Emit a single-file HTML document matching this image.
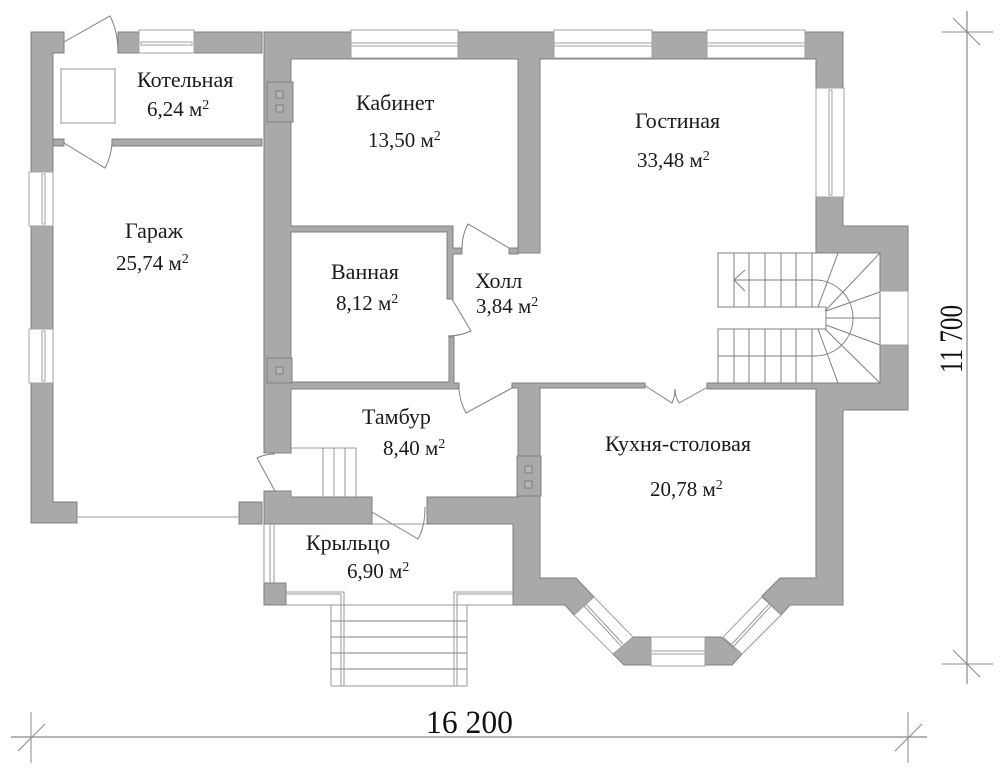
<!DOCTYPE html>
<html><head><meta charset="utf-8"><style>
html,body{margin:0;padding:0;background:#fff}
svg{display:block}
.w{fill:#a9a9a9;stroke:#808080;stroke-width:1}
.l{fill:none;stroke:#999;stroke-width:1}
.d{fill:none;stroke:#808080;stroke-width:1}
.win{fill:#fff;stroke:#a0a0a0;stroke-width:1}
.t{font-family:"Liberation Serif","Noto Serif CJK SC",serif;font-size:22px;fill:#1a1a1a}
.a{font-size:21px}
.s{font-size:14px}
.dim{font-family:"Liberation Serif",serif;font-size:33px;fill:#111}
</style></head><body>
<svg width="1000" height="773" viewBox="0 0 1000 773" xmlns="http://www.w3.org/2000/svg">
<rect width="1000" height="773" fill="#fff"/>

<!-- walls -->
<path class="w" d="M31 32H64V53H53V172H31Z"/>
<path class="w" d="M31 226H53V329H31Z"/>
<path class="w" d="M31 383H53V502H77V523H31Z"/>
<path class="w" d="M118 32H262V53H118Z"/>
<rect class="w" x="53" y="139" width="11" height="7"/>
<rect class="w" x="112" y="139" width="150" height="7"/>
<path class="w" d="M264 32H843V88H816V59H540V253H518V59H291V226H453V248H462V254H453V299H447V232H291V382H449V337H454V383H459V389H291V453H264Z"/>
<path class="w" d="M509 248H518V254H509Z"/>
<path class="w" d="M816 197H843V226H908V291H880V253H816Z"/>
<path class="w" d="M880 345H908V410H843V605H790L781 615L762 596L780 578H816V389H707V383H880Z"/>
<path class="w" d="M512 383H645V388H540V578H576L594 597L574 615L565 605H513V524H427V497H518V388H512Z"/>
<path class="w" d="M264 491H291V497H372V524H264Z"/>
<rect class="w" x="239" y="502" width="23" height="22"/>
<rect class="w" x="264" y="583" width="22" height="22"/>
<path class="w" d="M633 637H651V665H624L613 654Z"/>
<path class="w" d="M705 637H721L742 654L732 665H705Z"/>

<!-- chimneys -->
<g fill="#a9a9a9" stroke="#808080">
<rect x="267" y="82" width="26" height="40"/>
<rect x="276" y="91" width="7" height="7" fill="#b5b5b5"/>
<rect x="276" y="105" width="7" height="7" fill="#b5b5b5"/>
<rect x="267" y="358" width="25" height="25"/>
<rect x="276" y="367" width="7" height="7" fill="#b5b5b5"/>
<rect x="517" y="456" width="24" height="40"/>
<rect x="525" y="466" width="7" height="7" fill="#b5b5b5"/>
<rect x="525" y="481" width="7" height="7" fill="#b5b5b5"/>
</g>

<!-- windows -->
<g>
<rect class="win" x="139" y="30" width="55" height="23"/>
<rect class="win" x="141" y="42" width="51" height="3"/>
<rect class="win" x="351" y="30" width="107" height="28"/>
<rect class="win" x="351" y="43" width="107" height="3"/>
<rect class="win" x="554" y="30" width="98" height="28"/>
<rect class="win" x="554" y="43" width="98" height="3"/>
<rect class="win" x="707" y="30" width="98" height="28"/>
<rect class="win" x="707" y="43" width="98" height="3"/>
<rect class="win" x="816" y="88" width="28" height="109"/>
<rect class="win" x="829" y="90" width="3" height="105"/>
<rect class="win" x="29" y="172" width="24" height="54"/>
<rect class="win" x="42" y="174" width="3" height="50"/>
<rect class="win" x="29" y="329" width="24" height="54"/>
<rect class="win" x="42" y="331" width="3" height="50"/>
<rect class="win" x="880" y="291" width="28" height="54"/>
<rect class="win" x="651" y="637" width="54" height="29"/>
<rect class="win" x="651" y="651" width="54" height="3"/>
<path class="win" d="M594 597L633 637L613 654L574 615Z"/>
<path class="l" d="M584 606L621 646M586 604L623 644"/>
<path class="win" d="M762 597L723 637L742 654L781 615Z"/>
<path class="l" d="M771 606L734 646M769 604L732 644"/>
</g>

<!-- boiler -->
<rect class="l" x="61" y="69" width="54" height="54"/>

<!-- doors -->
<path class="d" d="M64 42L110 16Q118 32 118 52"/>
<path class="d" d="M64 143L105 168Q112 155 112 140"/>
<path class="d" d="M509 248L468 224Q462 235 462 248"/>
<path class="d" d="M452 299L471 331Q460 336 448 336"/>
<path class="d" d="M459 389Q460 402 466 413L512 388"/>
<path class="d" d="M644 385L672 403Q675 396 675 389Q675 396 679 403L706 388"/>
<path class="d" d="M275 454Q265 454 257 458L275 491"/>
<path class="d" d="M372 512L418 539Q425 527 425 507"/>
<path class="l" d="M372 524H427"/>

<!-- garage door -->
<path class="l" d="M78 517H239"/>

<!-- inner stair at tambur -->
<path class="l" d="M291 448H356V497M323 448V497M334 448V497M345 448V497"/>

<!-- porch -->
<path class="l" d="M264 524V583M270 524V583M274 524V583"/>
<path class="l" d="M286 592H344V605M286 594H341V605M286 605H513M513 592H454V605M513 594H457V605"/>
<rect class="l" x="331" y="605" width="136" height="81"/>
<path class="d" d="M331 621H467M331 637H467M331 653H467M331 669H467"/>
<path class="l" d="M341 605V686M344 605V686M454 605V686M457 605V686"/>

<!-- main stair -->
<g>
<path class="d" d="M816 253H718V307H826V329H718V383"/>
<path class="d" d="M734 253V307M749 253V307M765 253V307M781 253V307M796 253V307M812 253V307"/>
<path class="d" d="M734 329V383M749 329V383M765 329V383M781 329V383M796 329V383M812 329V383"/>
<path class="d" d="M718 356H815A38 38 0 0 0 815 280H734"/>
<path class="d" d="M745 270L734 280L745 291"/>
<path class="d" d="M838 253L818 307M880 253L825 311M880 292L826 311M826 318H880M826 325L880 345M825 329L880 383M818 329L838 383"/>
<path class="d" d="M880 253V383"/>
</g>

<!-- labels -->
<text class="t" x="137" y="87">Котельная</text>
<text class="t a" x="147" y="116">6,24 м<tspan class="s" dy="-7">2</tspan></text>
<text class="t" x="356" y="110">Кабинет</text>
<text class="t a" x="368" y="147">13,50 м<tspan class="s" dy="-7">2</tspan></text>
<text class="t" x="635" y="128">Гостиная</text>
<text class="t a" x="637" y="167">33,48 м<tspan class="s" dy="-7">2</tspan></text>
<text class="t" x="125" y="238">Гараж</text>
<text class="t a" x="116" y="270">25,74 м<tspan class="s" dy="-7">2</tspan></text>
<text class="t" x="331" y="279">Ванная</text>
<text class="t a" x="336" y="310">8,12 м<tspan class="s" dy="-7">2</tspan></text>
<text class="t" x="475" y="288">Холл</text>
<text class="t a" x="476" y="313">3,84 м<tspan class="s" dy="-7">2</tspan></text>
<text class="t" x="362" y="424">Тамбур</text>
<text class="t a" x="383" y="455">8,40 м<tspan class="s" dy="-7">2</tspan></text>
<text class="t" x="605" y="451">Кухня-столовая</text>
<text class="t a" x="650" y="496">20,78 м<tspan class="s" dy="-7">2</tspan></text>
<text class="t" x="306" y="550">Крыльцо</text>
<text class="t a" x="347" y="578">6,90 м<tspan class="s" dy="-7">2</tspan></text>

<!-- dimensions -->
<g stroke="#888" stroke-width="1" fill="none">
<path stroke-width="1.2" d="M11 737H927"/>
<path d="M31 712V763M45 724L18 751M908 712V763M922 724L895 751"/>
<path stroke-width="1.2" d="M967 11V684"/>
<path d="M942 32H993M953 18L980 45M942 664H993M953 650L980 677"/>
</g>
<text class="dim" x="426" y="733" textLength="87" lengthAdjust="spacingAndGlyphs">16 200</text>
<text class="dim" transform="translate(962 373) rotate(-90)" x="0" y="0" textLength="68" lengthAdjust="spacingAndGlyphs">11 700</text>
</svg>
</body></html>
